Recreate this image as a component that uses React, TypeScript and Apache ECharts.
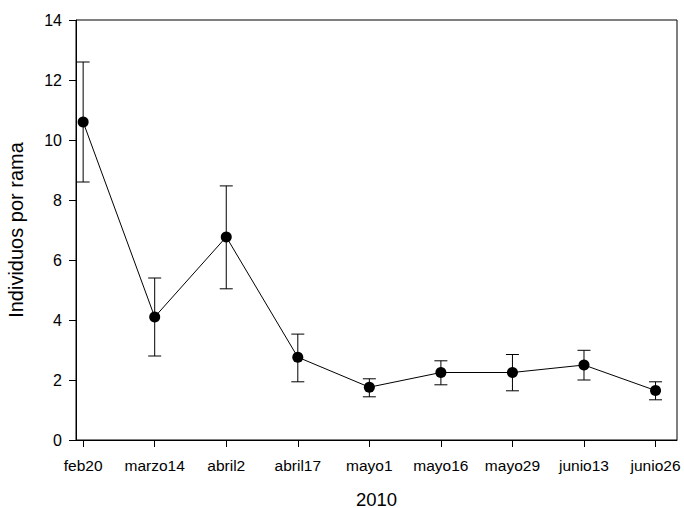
import React, { useEffect, useRef } from "react";
import * as echarts from "echarts";

const categories = ["feb20", "marzo14", "abril2", "abril17", "mayo1", "mayo16", "mayo29", "junio13", "junio26"];
const means = [10.6, 4.1, 6.77, 2.76, 1.76, 2.25, 2.25, 2.5, 1.65];
const lows = [8.6, 2.8, 5.04, 1.94, 1.44, 1.84, 1.64, 2.0, 1.34];
const highs = [12.6, 5.4, 8.47, 3.53, 2.04, 2.64, 2.85, 2.99, 1.94];
const yTicks = { min: 0, max: 14, interval: 2 };

export default function App() {
  const ref = useRef<HTMLDivElement>(null);
  useEffect(() => {
    if (!ref.current) return;
    document.body.style.margin = "0";
    document.body.style.overflow = "hidden";
    const chart = echarts.init(ref.current, undefined, { renderer: "svg" });
    const idx = categories.map((_, i) => i);
    const font = "'Liberation Sans', Arial, Helvetica, sans-serif";
    chart.setOption({
      animation: false,
      backgroundColor: "#fff",
      grid: {
        left: 76,
        right: 7,
        top: 20,
        bottom: 68,
        containLabel: false,
        outerBoundsMode: "none",
        show: true,
        borderColor: "#000",
        borderWidth: 1,
        backgroundColor: "transparent",
      },
      xAxis: {
        type: "value",
        min: -0.1,
        max: 8.3,
        name: "2010",
        nameLocation: "middle",
        nameGap: 51,
        nameTextStyle: { color: "#000", fontSize: 18.5, lineHeight: 16, fontFamily: font },
        splitLine: { show: false },
        axisLine: { show: true, onZero: false, lineStyle: { color: "#000", width: 1 } },
        axisTick: { show: true, length: 7, lineStyle: { color: "#000" }, customValues: idx },
        axisLabel: {
          color: "#000",
          fontSize: 15.5,
          fontFamily: font,
          margin: 17,
          customValues: idx,
          hideOverlap: false,
          formatter: (v: number) => categories[Math.round(v)] ?? "",
        },
      },
      yAxis: {
        type: "value",
        min: yTicks.min,
        max: yTicks.max,
        interval: yTicks.interval,
        name: "Individuos por rama",
        nameLocation: "middle",
        nameGap: 50,
        nameTextStyle: { color: "#000", fontSize: 20, fontFamily: font },
        splitLine: { show: false },
        axisLine: { show: true, onZero: false, lineStyle: { color: "#000", width: 1 } },
        axisTick: { show: true, length: 7, lineStyle: { color: "#000" } },
        axisLabel: { color: "#000", fontSize: 16, fontFamily: font, margin: 14 },
      },
      series: [
        {
          type: "custom",
          data: idx.map((i) => [i, lows[i], highs[i]]),
          renderItem: (params: any, api: any) => {
            const x = api.value(0);
            const lo = api.coord([x, api.value(1)]);
            const hi = api.coord([x, api.value(2)]);
            const hw = 6.5;
            const style = { stroke: "#000", lineWidth: 1 };
            return {
              type: "group",
              children: [
                { type: "line", shape: { x1: lo[0], y1: lo[1], x2: hi[0], y2: hi[1] }, style },
                { type: "line", shape: { x1: hi[0] - hw, y1: hi[1], x2: hi[0] + hw, y2: hi[1] }, style },
                { type: "line", shape: { x1: lo[0] - hw, y1: lo[1], x2: lo[0] + hw, y2: lo[1] }, style },
              ],
            };
          },
          z: 1,
        },
        {
          type: "line",
          data: idx.map((i) => [i, means[i]]),
          symbol: "circle",
          symbolSize: 11,
          itemStyle: { color: "#000" },
          lineStyle: { color: "#000", width: 1 },
          z: 2,
        },
      ],
    });
    return () => chart.dispose();
  }, []);
  return <div ref={ref} style={{ position: "fixed", left: 0, top: 0, width: 684, height: 508 }} />;
}
